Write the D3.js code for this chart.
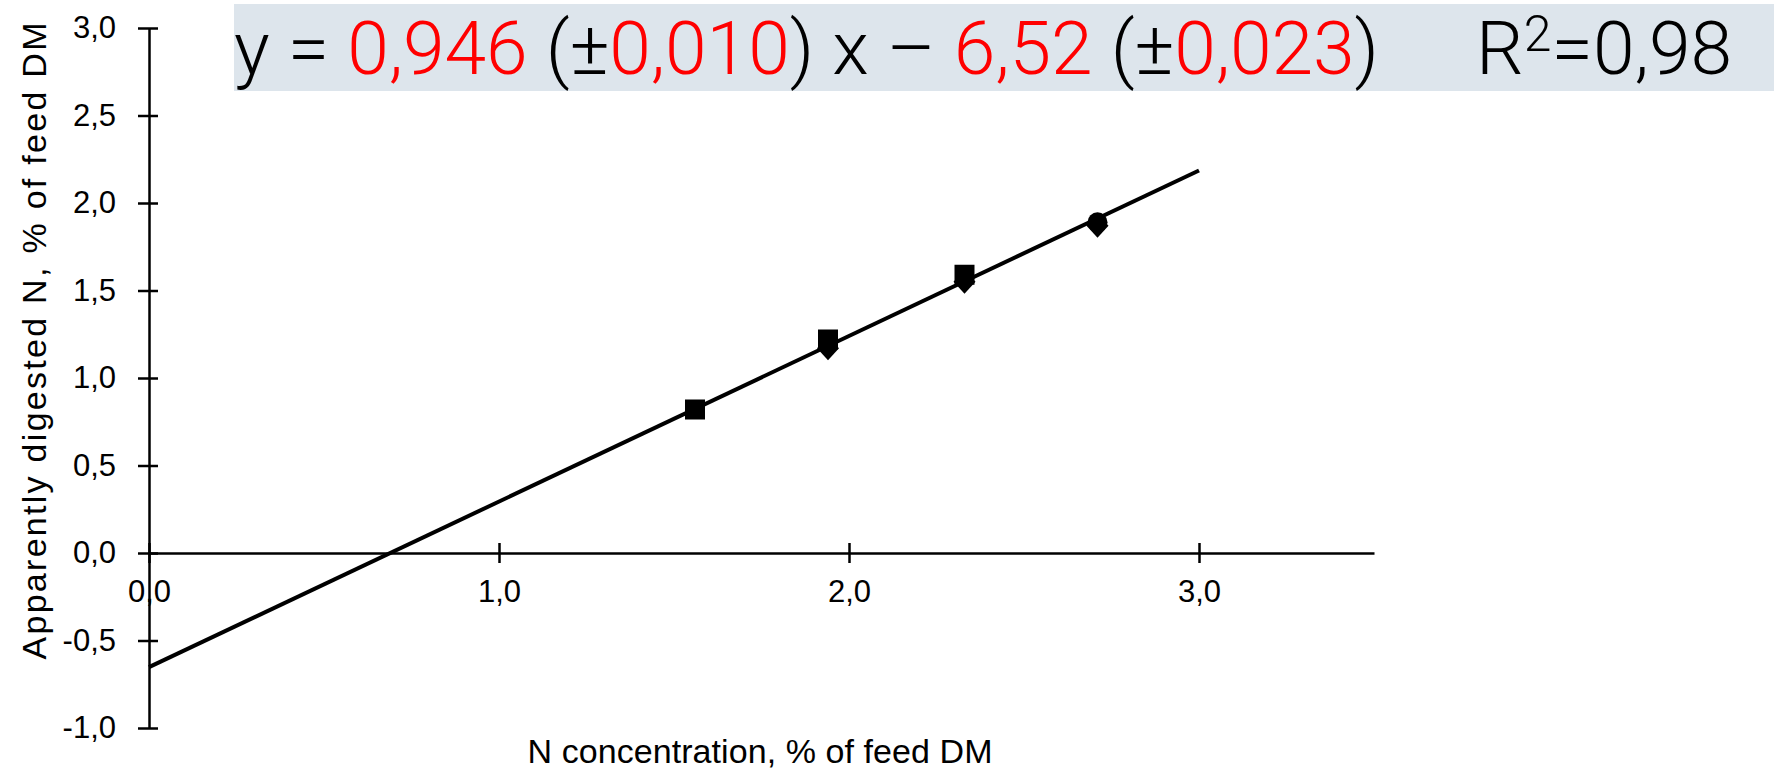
<!DOCTYPE html>
<html>
<head>
<meta charset="utf-8">
<script src="https://cdnjs.cloudflare.com/ajax/libs/d3/7.8.5/d3.min.js"></script>
<style>
    body { margin: 0; background: #fff; }
    svg { display: block; }
    .axis text { font-family: "Liberation Sans", Arial, sans-serif; font-size: 31px; fill: #000; }
    .axis path, .axis line { stroke: #000; stroke-width: 2.5; }
    .title { font-family: "Liberation Sans", Arial, sans-serif; font-size: 34px; fill: #000; }
    .equation { font-family: Roboto, "Noto Sans", sans-serif; font-size: 75px; font-weight: 300; fill: #000; }
</style>
</head>
<body>
<div id="container"><svg></svg></div>
<script>
var W = 1774, H = 770;

// axes
var xDomain = [0, 3.5];
var yDomain = [-1, 3];
var xTicks = [0, 1, 2, 3];
var yTicks = [-1, -0.5, 0, 0.5, 1, 1.5, 2, 2.5, 3];

// measured points
var squareX = [1.56, 1.94, 2.33];
var squareY = [0.82, 1.22, 1.59];
var diamondX = [1.94, 2.33, 2.71];
var diamondY = [1.17, 1.55, 1.87];
var circleX = [2.71];
var circleY = [1.89];

// fitted line
var fitSlope = 0.946;
var fitIntercept = -0.652;
var fitX = [0, 3];

// equation text, red = coefficient
var eqParts = [
    { t: 'y = ', red: false },
    { t: '0,946', red: true },
    { t: ' (±', red: false },
    { t: '0,010', red: true },
    { t: ') x – ', red: false },
    { t: '6,52', red: true },
    { t: ' (±', red: false },
    { t: '0,023', red: true },
    { t: ')', red: false }
];
var r2Label = 'R';
var r2Value = '=0,98';

var xTitle = 'N concentration, % of feed DM';
var yTitle = 'Apparently digested N,  % of feed DM';

function fmt(d) {
    return d.toFixed(1).replace('.', ',');
}

function main() {
    var svg = d3.select('#container svg').attr('width', W).attr('height', H);

    var x = d3.scaleLinear().domain(xDomain).range([149, 1374]);
    var y = d3.scaleLinear().domain(yDomain).range([728, 28]);

    // equation banner
    svg.append('rect')
        .attr('x', 234).attr('y', 4)
        .attr('width', W - 234).attr('height', 87)
        .attr('fill', '#dde5ec');

    var eq = svg.append('text').attr('class', 'equation').attr('x', 234).attr('y', 74);
    eq.selectAll('tspan')
        .data(eqParts)
        .enter().append('tspan')
        .attr('fill', function(d) { return d.red ? '#ff0000' : '#000'; })
        .style('white-space', 'pre')
        .text(function(d) { return d.t; });
    // stretch the equation to the width it takes in the original
    var natural = eq.node().getComputedTextLength();
    var chars = eqParts.map(function(d) { return d.t; }).join('').length;
    eq.attr('letter-spacing', (1379 - 234 - natural) / (chars - 1));

    var r2 = svg.append('text').attr('class', 'equation').attr('x', 1476).attr('y', 74);
    r2.append('tspan').text(r2Label);
    r2.append('tspan').attr('font-size', 50).attr('dy', -23).text('2');
    r2.append('tspan').attr('dy', 23).text(r2Value);

    // y axis
    var yAxis = svg.append('g')
        .attr('class', 'axis')
        .attr('transform', 'translate(' + x(0) + ',0)')
        .call(d3.axisLeft(y).tickValues(yTicks).tickSizeInner(11).tickSizeOuter(0).tickPadding(22).tickFormat(fmt));
    yAxis.selectAll('.tick line').attr('x1', 9);

    // x axis sits on y = 0
    var xAxis = svg.append('g')
        .attr('class', 'axis')
        .attr('transform', 'translate(0,' + y(0) + ')')
        .call(d3.axisBottom(x).tickValues(xTicks).tickSizeInner(10).tickSizeOuter(0).tickPadding(17).tickFormat(fmt));
    xAxis.selectAll('.tick line').attr('y1', -10);

    // titles
    svg.append('text')
        .attr('class', 'title')
        .attr('x', 760).attr('y', 763)
        .attr('text-anchor', 'middle')
        .attr('textLength', 465)
        .text(xTitle);

    svg.append('text')
        .attr('class', 'title')
        .attr('font-size', 36)
        .attr('transform', 'translate(46,' + 341 + ') rotate(-90)')
        .attr('text-anchor', 'middle')
        .attr('textLength', 637)
        .text(yTitle);

    // regression line
    var line = d3.line()
        .x(function(d) { return x(d); })
        .y(function(d) { return y(fitSlope * d + fitIntercept); });
    svg.append('path')
        .datum(fitX)
        .attr('d', line)
        .attr('fill', 'none')
        .attr('stroke', '#000')
        .attr('stroke-width', 4);

    // markers
    var diamonds = d3.zip(diamondX, diamondY);
    svg.selectAll('.diamond')
        .data(diamonds)
        .enter().append('path')
        .attr('class', 'diamond')
        .attr('d', 'M0,-12L11,0L0,12L-11,0Z')
        .attr('transform', function(d) { return 'translate(' + x(d[0]) + ',' + y(d[1]) + ')'; })
        .attr('fill', '#000');

    var squares = d3.zip(squareX, squareY);
    svg.selectAll('.square')
        .data(squares)
        .enter().append('rect')
        .attr('class', 'square')
        .attr('x', function(d) { return x(d[0]) - 10; })
        .attr('y', function(d) { return y(d[1]) - 10; })
        .attr('width', 20).attr('height', 20)
        .attr('fill', '#000');

    var circles = d3.zip(circleX, circleY);
    svg.selectAll('.dot')
        .data(circles)
        .enter().append('circle')
        .attr('class', 'dot')
        .attr('cx', function(d) { return x(d[0]); })
        .attr('cy', function(d) { return y(d[1]); })
        .attr('r', 10)
        .attr('fill', '#000');
}

main();
</script>
</body>
</html>
